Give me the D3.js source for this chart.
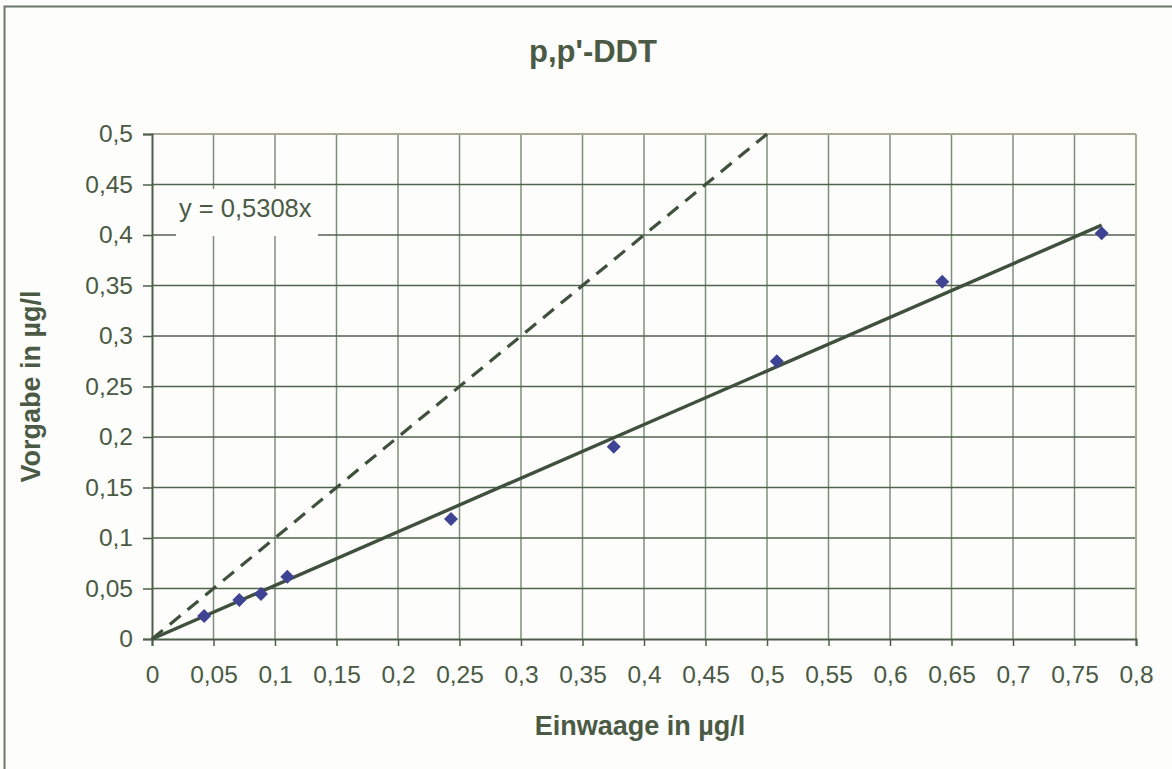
<!DOCTYPE html>
<html>
<head>
<meta charset="utf-8">
<script src="https://cdn.jsdelivr.net/npm/d3@7"></script>
<style>
  html, body { margin: 0; padding: 0; background: #fdfdfb; }
  svg { display: block; }
  text { font-family: "Liberation Sans", Arial, sans-serif; fill: #4a5a45; }
</style>
</head>
<body>
<svg id="chart" width="1172" height="769"></svg>
<script>
// Calibration data: weighed-in vs. nominal concentration (µg/l)
const einwaage = [0.0424, 0.0710, 0.0886, 0.1100, 0.2431, 0.3754, 0.5080, 0.6425, 0.7721];
const vorgabe  = [0.0228, 0.0386, 0.0446, 0.0617, 0.1188, 0.1904, 0.2750, 0.3538, 0.4017];
const slope = 0.5308;            // trend line through origin
const identityEnd = 0.5;         // 1:1 reference line ends here
const xTicks = [0, 0.05, 0.1, 0.15, 0.2, 0.25, 0.3, 0.35, 0.4, 0.45, 0.5, 0.55, 0.6, 0.65, 0.7, 0.75, 0.8];
const yTicks = [0, 0.05, 0.1, 0.15, 0.2, 0.25, 0.3, 0.35, 0.4, 0.45, 0.5];
const title = "p,p'-DDT";
const xTitle = "Einwaage in µg/l";
const yTitle = "Vorgabe in µg/l";
const equation = "y = 0,5308x";

const svg = d3.select("#chart");
const W = 1172, H = 769;
const plot = { left: 152, right: 1136, top: 134, bottom: 639 };

const de = d3.formatLocale({ decimal: ",", thousands: ".", grouping: [3], currency: ["", " €"] });
const fmt = de.format("~g");

const x = d3.scaleLinear().domain([0, 0.8]).range([plot.left, plot.right]);
const y = d3.scaleLinear().domain([0, 0.5]).range([plot.bottom, plot.top]);

// background and outer frame
svg.append("rect").attr("x", 0).attr("y", 0).attr("width", W).attr("height", H).attr("fill", "#fdfdfb");
svg.append("rect").attr("x", 4.5).attr("y", 6.5).attr("width", W + 20).attr("height", H + 20)
  .attr("fill", "none").attr("stroke", "#6a7868").attr("stroke-width", 2);

// grid
const grid = svg.append("g");
grid.selectAll("line.v").data(xTicks.slice(1, -1)).join("line")
  .attr("x1", d => x(d)).attr("x2", d => x(d))
  .attr("y1", plot.top).attr("y2", plot.bottom)
  .attr("stroke", "#7f8e7c").attr("stroke-width", 1.5);
grid.selectAll("line.h").data(yTicks.slice(1, -1)).join("line")
  .attr("x1", plot.left).attr("x2", plot.right)
  .attr("y1", d => y(d)).attr("y2", d => y(d))
  .attr("stroke", "#4f634d").attr("stroke-width", 1.3);

// plot border: top and right
svg.append("line").attr("x1", plot.left).attr("x2", plot.right).attr("y1", plot.top).attr("y2", plot.top)
  .attr("stroke", "#a9a892").attr("stroke-width", 2);
svg.append("line").attr("x1", plot.right).attr("x2", plot.right).attr("y1", plot.top).attr("y2", plot.bottom)
  .attr("stroke", "#a9a892").attr("stroke-width", 2);

// axes
const xAxis = d3.axisBottom(x).tickValues(xTicks).tickFormat(fmt).tickSize(7).tickPadding(20);
const yAxis = d3.axisLeft(y).tickValues(yTicks).tickFormat(fmt).tickSize(9).tickPadding(10);

const gx = svg.append("g").attr("transform", `translate(0,${plot.bottom})`).call(xAxis);
const gy = svg.append("g").attr("transform", `translate(${plot.left},0)`).call(yAxis);
[gx, gy].forEach(g => {
  g.select(".domain").attr("stroke", "#4e5e4a").attr("stroke-width", 2);
  g.selectAll(".tick line").attr("stroke", "#4e5e4a").attr("stroke-width", 1.5);
  g.selectAll(".tick text").attr("font-size", 24.5).attr("fill", "#4a5a45")
    .attr("font-family", "'Liberation Sans', Arial, sans-serif");
});

// equation label with white box masking the grid
svg.append("rect").attr("x", 176).attr("y", 189).attr("width", 142).attr("height", 47).attr("fill", "#fdfdfb");
svg.append("text").attr("x", 179).attr("y", 217).attr("font-size", 25.5).text(equation);

// 1:1 reference line (dashed)
const line = d3.line().x(d => x(d[0])).y(d => y(d[1]));
svg.append("path").datum([[0, 0], [identityEnd, identityEnd]]).attr("d", line)
  .attr("fill", "none").attr("stroke", "#3f513d").attr("stroke-width", 3.2)
  .attr("stroke-dasharray", "14,9");

// linear trend line through origin
const xMax = d3.max(einwaage);
svg.append("path").datum([[0, 0], [xMax, slope * xMax]]).attr("d", line)
  .attr("fill", "none").attr("stroke", "#3f513d").attr("stroke-width", 3.4);

// data markers (diamonds)
const diamond = d3.symbol().type(d3.symbolSquare).size(98);
svg.append("g").selectAll("path").data(einwaage.map((v, i) => [v, vorgabe[i]])).join("path")
  .attr("d", diamond)
  .attr("transform", d => `translate(${x(d[0])},${y(d[1])}) rotate(45)`)
  .attr("fill", "#3f4393");

// titles
svg.append("text").attr("x", 593).attr("y", 61.5).attr("text-anchor", "middle")
  .attr("font-size", 31).attr("font-weight", "bold").text(title);
svg.append("text").attr("x", 640).attr("y", 735).attr("text-anchor", "middle")
  .attr("font-size", 27).attr("font-weight", "bold").text(xTitle);
svg.append("text").attr("transform", `translate(40,${(plot.top + plot.bottom) / 2}) rotate(-90)`)
  .attr("text-anchor", "middle").attr("font-size", 27).attr("font-weight", "bold").text(yTitle);
</script>
</body>
</html>
